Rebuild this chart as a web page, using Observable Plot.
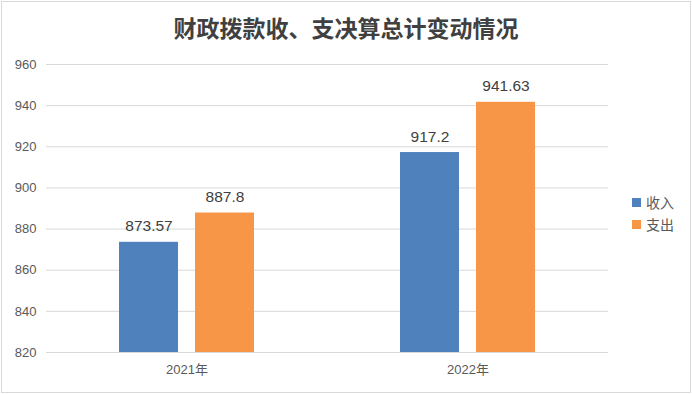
<!DOCTYPE html>
<html><head><meta charset="utf-8">
<script src="https://cdn.jsdelivr.net/npm/d3@7"></script>
<script src="https://cdn.jsdelivr.net/npm/@observablehq/plot@0.6"></script>
<style>
body{margin:0;background:#fff;}
#chart{position:relative;width:692px;height:394px;overflow:hidden;background:#fff;font-family:"Liberation Sans","Noto Sans CJK SC",sans-serif;}
#frame{position:absolute;left:1px;top:1px;width:690px;height:392px;box-sizing:border-box;border:1px solid #d9d9d9;pointer-events:none;}
#title{position:absolute;left:0;top:12px;width:692px;text-align:center;font-family:"Noto Sans CJK SC",sans-serif;font-weight:bold;font-size:23px;line-height:30px;color:#404040;}
#plot{position:absolute;left:0;top:0;}
#legend{position:absolute;left:632px;top:191px;font-family:"Noto Sans CJK SC",sans-serif;font-size:14px;color:#595959;}
#legend .item{display:flex;align-items:center;height:22px;}
#legend .sw{width:9px;height:9px;margin-right:5px;}
</style></head>
<body>
<div id="chart">
  <div id="plot"></div>
  <div id="title">财政拨款收、支决算总计变动情况</div>
  <div id="legend"></div>
  <div id="frame"></div>
</div>
<script>
const years = ["2021年", "2022年"];
const series = ["收入", "支出"];
const income = [873.57, 917.2];
const expense = [887.8, 941.63];
const yTicks = [820, 840, 860, 880, 900, 920, 940, 960];
const colors = ["#4F81BD", "#F79646"];

const data = [];
years.forEach((y, i) => {
  data.push({year: y, type: series[0], value: income[i]});
  data.push({year: y, type: series[1], value: expense[i]});
});
const yMin = yTicks[0];

const chart = Plot.plot({
  width: 692,
  height: 394,
  marginTop: 64,
  marginBottom: 42,
  marginLeft: 46,
  marginRight: 84,
  style: {fontFamily: '"Liberation Sans","Noto Sans CJK SC",sans-serif', background: "transparent"},
  fx: {domain: years, padding: 0, label: null},
  x: {domain: series, paddingInner: 0.2237, paddingOuter: 0.96, axis: null},
  y: {domain: [yTicks[0], yTicks[yTicks.length - 1]], label: null},
  color: {domain: series, range: colors},
  marks: [
    Plot.gridY(yTicks, {stroke: "#d9d9d9", strokeOpacity: 1}),
    Plot.axisY(yTicks, {tickSize: 0, tickPadding: 10, fontSize: 13, fill: "#595959", label: null}),
    Plot.axisFx({anchor: "bottom", tickSize: 0, tickPadding: 12, fontSize: 13, fill: "#595959", label: null}),
    Plot.barY(data, {fx: "year", x: "type", y1: yMin, y2: "value", fill: "type"}),
    Plot.text(data, {fx: "year", x: "type", y: "value", text: d => String(d.value), dy: -11, lineAnchor: "bottom", fontSize: 15.5, fill: "#404040"})
  ]
});
document.getElementById("plot").appendChild(chart);

const legend = document.getElementById("legend");
series.forEach((s, i) => {
  const item = document.createElement("div");
  item.className = "item";
  item.innerHTML = `<span class="sw" style="background:${colors[i]}"></span><span>${s}</span>`;
  legend.appendChild(item);
});
</script>
</body></html>
